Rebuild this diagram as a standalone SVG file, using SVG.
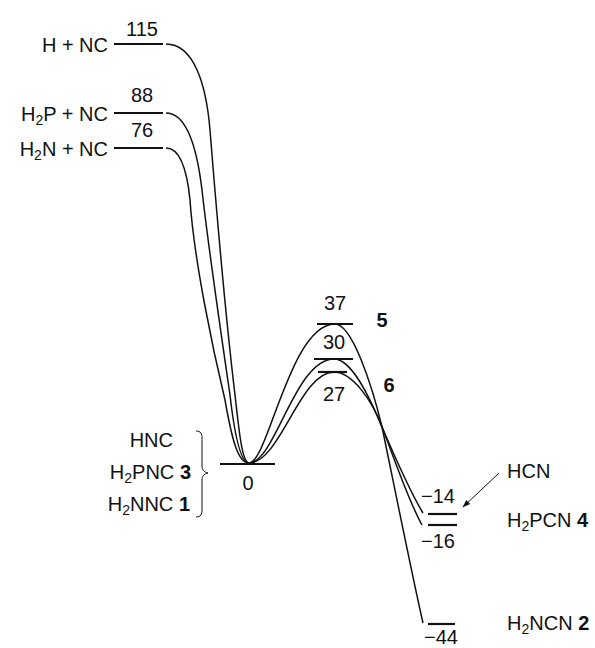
<svg xmlns="http://www.w3.org/2000/svg" width="595" height="648" viewBox="0 0 595 648">
<defs>
<style>
.t{font-family:"Liberation Sans",Arial,Helvetica,sans-serif;font-size:20px;fill:#111}
.b{font-weight:bold}
.lvl{stroke:#111;stroke-width:2.2;fill:none}
.cur{stroke:#111;stroke-width:1.5;fill:none}
.thin{stroke:#111;stroke-width:1;fill:none}
</style>
<marker id="ah" viewBox="0 0 10 10" refX="9" refY="5" markerWidth="8" markerHeight="8" orient="auto" markerUnits="userSpaceOnUse">
<path d="M0,1.5 L10,5 L0,8.5 Z" fill="#111"/>
</marker>
</defs>
<rect width="595" height="648" fill="#fff"/>

<g id="connectors">
<path class="cur" d="M166,44 C193,44 206,82 210,130 C214,180 226,320 235,395 C239,430 242,463 249,463 C275,463 295,359 334,359 C352,359 370,398 382,427 C394,455 412,495 423,513"/>
<path class="cur" d="M166,113 C184,113 196,140 202,190 C208,245 222,340 230,395 C234,430 240,463 249,463 C280,463 300,372 334,372 C352,372 372,400 382,427 C392,452 408,500 422,525"/>
<path class="cur" d="M166,148 C180,148 187,170 190,200 C194,260 213,350 225,400 C232,440 238,463 249,463 C268,463 290,324 335,324 C352,324 372,385 382,427 C390,465 412,575 423,623"/>
<line class="thin" x1="499" y1="473" x2="463" y2="507" marker-end="url(#ah)"/>
</g>

<g id="n-h-nc">
<line class="lvl" x1="114" y1="44" x2="163" y2="44"/>
<text class="t" x="108" y="51.5" text-anchor="end">H + NC</text>
<text class="t" x="142" y="36" text-anchor="middle">115</text>
</g>
<g id="n-h2p-nc">
<line class="lvl" x1="114" y1="113" x2="163" y2="113"/>
<text class="t" x="108" y="121" text-anchor="end">H<tspan font-size="14" dy="4">2</tspan><tspan dy="-4">P + NC</tspan></text>
<text class="t" x="142" y="102" text-anchor="middle">88</text>
</g>
<g id="n-h2n-nc">
<line class="lvl" x1="114" y1="148" x2="163" y2="148"/>
<text class="t" x="108" y="156" text-anchor="end">H<tspan font-size="14" dy="4">2</tspan><tspan dy="-4">N + NC</tspan></text>
<text class="t" x="142" y="137" text-anchor="middle">76</text>
</g>
<g id="n-min">
<line class="lvl" x1="220" y1="464" x2="275" y2="464"/>
<text class="t" x="248" y="490" text-anchor="middle">0</text>
<text class="t" x="173" y="447" text-anchor="end">HNC</text>
<text class="t" x="191" y="479" text-anchor="end">H<tspan font-size="14" dy="4">2</tspan><tspan dy="-4">PNC </tspan><tspan class="b">3</tspan></text>
<text class="t" x="190" y="511" text-anchor="end">H<tspan font-size="14" dy="4">2</tspan><tspan dy="-4">NNC </tspan><tspan class="b">1</tspan></text>
<path class="thin" stroke-width="1.3" d="M196,431 C201,431 202,434 202,438 L202,466 C202,470 204,472 208,473 C204,474 202,476 202,480 L202,510 C202,514 201,517 196,517"/>
</g>
<g id="n-ts5">
<line class="lvl" x1="317" y1="324" x2="353" y2="324"/>
<text class="t" x="335" y="310" text-anchor="middle">37</text>
<text class="t b" x="382" y="327" text-anchor="middle">5</text>
</g>
<g id="n-ts30">
<line class="lvl" x1="314" y1="359" x2="353" y2="359"/>
<text class="t" x="334" y="349" text-anchor="middle">30</text>
</g>
<g id="n-ts6">
<line class="lvl" x1="318" y1="372" x2="347" y2="372"/>
<text class="t" x="334" y="401" text-anchor="middle">27</text>
<text class="t b" x="389" y="392" text-anchor="middle">6</text>
</g>
<g id="n-hcn">
<line class="lvl" x1="428" y1="514" x2="457" y2="514"/>
<text class="t" x="438" y="503" text-anchor="middle">−14</text>
<text class="t" x="507" y="478">HCN</text>
</g>
<g id="n-h2pcn">
<line class="lvl" x1="428" y1="525" x2="457" y2="525"/>
<text class="t" x="438" y="548" text-anchor="middle">−16</text>
<text class="t" x="507" y="527">H<tspan font-size="14" dy="4">2</tspan><tspan dy="-4">PCN </tspan><tspan class="b">4</tspan></text>
</g>
<g id="n-h2ncn">
<line class="lvl" x1="428" y1="624" x2="455" y2="624"/>
<text class="t" x="441" y="644" text-anchor="middle">−44</text>
<text class="t" x="507" y="630">H<tspan font-size="14" dy="4">2</tspan><tspan dy="-4">NCN </tspan><tspan class="b">2</tspan></text>
</g>
</svg>
